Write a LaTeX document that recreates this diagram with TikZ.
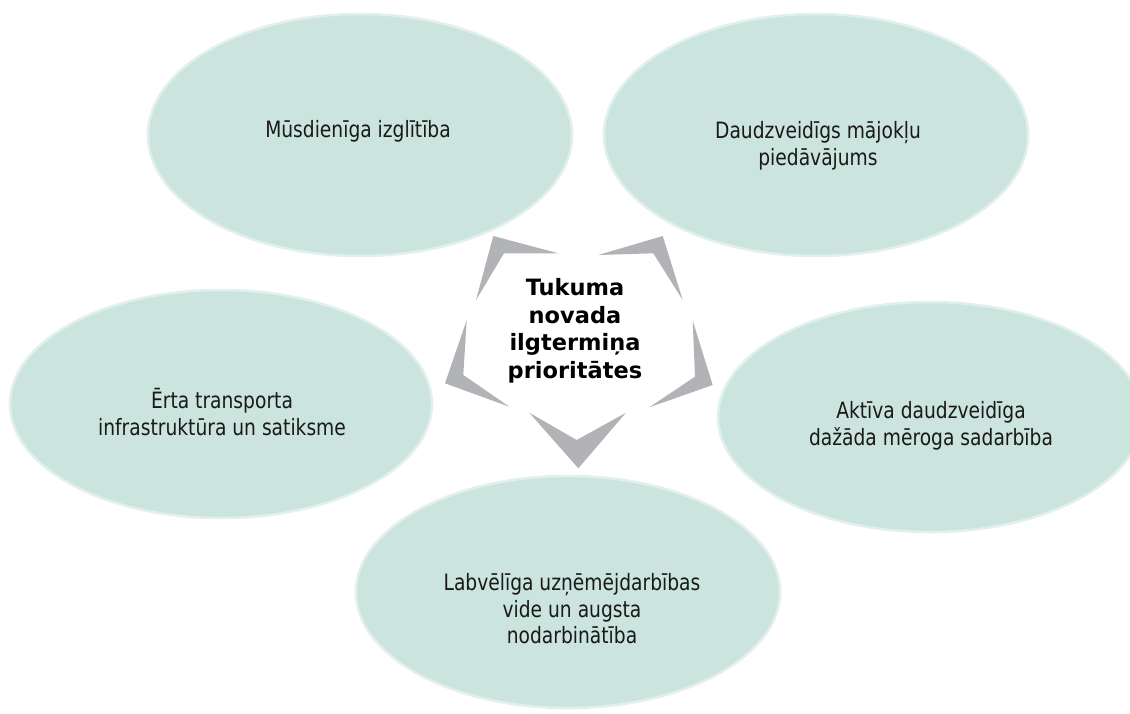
\documentclass[tikz,border=0pt]{standalone}
\usepackage{fontspec}
\setmainfont{DejaVu Sans}
\newfontfamily\elfont{DejaVu Sans}[FakeStretch=0.83]
\usetikzlibrary{shapes.geometric}
\definecolor{blob}{RGB}{203,228,222}
\definecolor{chev}{RGB}{178,179,183}
\definecolor{ink}{RGB}{25,25,25}
\begin{document}
\begin{tikzpicture}[x=1pt,y=-1pt,
  blobshape/.style={ellipse, fill=blob, draw=blob!55!white, line width=2.5pt, inner sep=0pt},
  lbl/.style={align=center, text=ink, inner sep=0pt, font=\elfont\fontsize{22.5}{26.5}\selectfont},
  ctr/.style={align=center, text=black, inner sep=0pt, font=\bfseries\fontsize{22.5}{27.5}\selectfont},
  chevfill/.style={fill=chev}]
\useasboundingbox (0,0) rectangle (1130,713);
\clip (0,0) rectangle (1130,713);
\fill[white] (0,0) rectangle (1130,713);

% ellipses
\node[blobshape, minimum width=424pt, minimum height=242pt] (e1) at (360,135) {};
\node[blobshape, minimum width=424pt, minimum height=242pt] (e2) at (816,135) {};
\node[blobshape, minimum width=422pt, minimum height=228pt] (e3) at (221,404) {};
\node[blobshape, minimum width=424pt, minimum height=230pt] (e4) at (930,417) {};
\node[blobshape, minimum width=424pt, minimum height=232pt] (e5) at (568,592) {};

% labels
\node[lbl] (t1) at (358,131) {Mūsdienīga izglītība};
\node[lbl] (t2) at (818,146) {Daudzveidīgs mājokļu\\piedāvājums};
\node[lbl] (t3) at (222,412) {Ērta transporta\\infrastruktūra un satiksme};
\node[lbl] (t4) at (931,426) {Aktīva daudzveidīga\\dažāda mēroga sadarbība};
\node[lbl] (t5) at (572,609) {Labvēlīga uzņēmējdarbības\\vide un augsta\\nodarbinātība};

% central chevrons
\fill[chevfill] (529.3,412.7) -- (578.3,468.3) -- (626,412.7) -- (576.7,440) -- cycle;
\fill[chevfill] (558.3,253.3) -- (493.3,236) -- (476,300) -- (504,253.3) -- cycle;
\fill[chevfill] (598.3,255) -- (662.7,236) -- (682.7,300) -- (653.3,253.3) -- cycle;
\fill[chevfill] (466.7,320) -- (445,383.3) -- (509.3,406.7) -- (463.3,375) -- cycle;
\fill[chevfill] (692.7,320.7) -- (712.7,385) -- (649.3,407.3) -- (695,376.7) -- cycle;

\node[ctr] (c) at (575,331) {Tukuma\\novada\\ilgtermiņa\\prioritātes};
\end{tikzpicture}
\end{document}
